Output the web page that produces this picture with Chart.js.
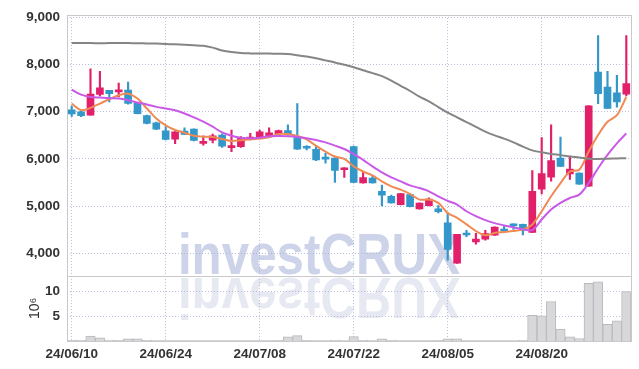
<!DOCTYPE html>
<html>
<head>
<meta charset="utf-8">
<script src="https://cdn.jsdelivr.net/npm/chart.js@4/dist/chart.umd.min.js"></script>
<style>
  html, body { margin: 0; padding: 0; background: #fff; }
  #wrap { width: 639px; height: 369px; position: relative; }
</style>
</head>
<body>
<div id="wrap"><canvas id="chart"></canvas></div>
<script>
const dates = ['24/06/10','24/06/11','24/06/12','24/06/13','24/06/14','24/06/17','24/06/18','24/06/19','24/06/20','24/06/21',
  '24/06/24','24/06/25','24/06/26','24/06/27','24/06/28','24/07/01','24/07/02','24/07/03','24/07/04','24/07/05',
  '24/07/08','24/07/09','24/07/10','24/07/11','24/07/12','24/07/15','24/07/16','24/07/17','24/07/18','24/07/19',
  '24/07/22','24/07/23','24/07/24','24/07/25','24/07/26','24/07/29','24/07/30','24/07/31','24/08/01','24/08/02',
  '24/08/05','24/08/06','24/08/07','24/08/08','24/08/09','24/08/12','24/08/13','24/08/14','24/08/16','24/08/19',
  '24/08/20','24/08/21','24/08/22','24/08/23','24/08/26','24/08/27','24/08/28','24/08/29','24/08/30','24/09/02'];
const tickDates = ['24/06/10','24/06/24','24/07/08','24/07/22','24/08/05','24/08/20'];
const priceTicks = [4000,5000,6000,7000,8000,9000];
const volumeTicks = [5,10];

const open = [7040,7000,6930,7365,7455,7420,7460,7195,6920,6765,
  6595,6420,6590,6635,6330,6395,6505,6240,6260,6410,
  6435,6495,6530,6600,6450,6235,6205,6010,6015,5770,
  6260,5490,5595,5310,5205,5030,5245,4940,5010,4940,
  4645,3790,4415,4240,4295,4380,4510,4595,4610,4440,
  5360,5615,6015,5680,5700,5420,7840,7525,7400,7375];
const close = [6955,6915,7375,7505,7385,7465,7175,6960,6750,6630,
  6415,6575,6520,6390,6365,6490,6270,6285,6450,6465,
  6575,6555,6600,6530,6205,6225,5980,5995,5755,5810,
  5500,5605,5490,5230,5065,5265,4985,5065,5150,4880,
  4080,4400,4385,4300,4415,4555,4470,4580,4490,5310,
  5690,5965,5840,5785,5465,7125,7385,7070,7210,7595];
const high = [7120,7010,7910,7855,7455,7610,7630,7200,6930,6780,
  6680,6580,6660,6640,6490,6525,6530,6610,6475,6540,
  6610,6660,6610,6720,7175,6285,6290,6120,6020,5815,
  6270,5735,5650,5445,5230,5270,5265,5070,5175,5010,
  4860,4400,4485,4420,4485,4560,4575,4625,4615,5750,
  6450,6720,6465,6060,5705,7130,8615,7855,7770,8615];
const low = [6900,6895,6925,7335,7210,7315,7160,6955,6740,6620,
  6400,6325,6515,6380,6290,6340,6245,6155,6245,6400,
  6425,6470,6495,6505,6200,6190,5960,5910,5500,5605,
  5495,5485,5485,5000,5060,5025,4980,4935,5005,4855,
  3850,3785,4350,4190,4275,4375,4435,4505,4385,4435,
  5255,5525,5835,5565,5460,5415,7170,7065,7095,7335];

// moving average lines
const maShort = [7173,7035,7082,7173,7265,7350,7384,7280,7068,6857,
  6710,6612,6555,6492,6471,6464,6422,6380,6393,6414,
  6430,6457,6528,6528,6486,6414,6275,6155,6050,6000,
  5840,5733,5650,5523,5417,5347,5255,5137,5137,5066,
  4850,4750,4610,4470,4380,4427,4448,4470,4505,4610,
  4890,5207,5487,5733,5770,6155,6506,6787,6928,7314];
const maMid = [7468,7362,7314,7300,7286,7280,7245,7195,7152,7103,
  7068,7033,6962,6880,6790,6682,6562,6492,6450,6436,
  6450,6478,6485,6478,6464,6436,6400,6350,6282,6210,
  6100,5980,5840,5712,5607,5523,5438,5382,5312,5207,
  5110,5031,4890,4785,4700,4637,4589,4547,4505,4490,
  4715,4925,5066,5171,5242,5487,5803,6085,6330,6541];
const maLong = [8460,8458,8456,8455,8456,8457,8456,8453,8450,8445,
  8438,8430,8422,8410,8400,8360,8300,8265,8245,8238,
  8235,8233,8230,8225,8200,8170,8135,8090,8045,7995,
  7945,7880,7820,7755,7660,7550,7440,7320,7220,7100,
  6980,6880,6780,6680,6580,6500,6430,6350,6260,6180,
  6140,6105,6080,6050,6030,6005,6000,6005,6010,6014];

// volume in 10^6
const volume = [0.15,0.2,1.0,0.65,0.2,0.15,0.45,0.45,0.15,0.1,
  0.1,0.1,0.1,0.1,0.1,0.1,0.1,0.1,0.1,0.1,
  0.1,0.1,0.15,0.85,1.1,0.15,0.1,0.1,0.15,0.1,
  0.9,0.15,0.1,0.45,0.15,0.1,0.1,0.1,0.1,0.15,
  0.45,0.45,0.1,0.1,0.1,0.1,0.1,0.1,0.15,5.2,
  5.1,8.0,2.4,0.85,0.5,11.7,12.0,3.4,4.1,10.0];

const UP = '#e2206a';
const DOWN = '#3397c9';
const GRID = 'rgba(170,178,212,0.85)';
const FRAME = '#c9c9cc';
const labelFont = {family: "'Liberation Sans', Arial, sans-serif", size: 13.5, weight: 'bold'};

const candleColors = close.map((c, i) => c >= open[i] ? UP : DOWN);

const watermark = {
  id: 'watermark',
  beforeDraw(chart) {
    const ctx = chart.ctx;
    const yb = chart.scales.y.bottom;
    const cx = 319;
    ctx.save();
    ctx.font = "bold 58px 'Liberation Sans', Arial, sans-serif";
    ctx.textAlign = 'center';
    ctx.textBaseline = 'alphabetic';
    ctx.translate(cx, 0);
    ctx.scale(0.85, 1);
    ctx.fillStyle = '#cdd3e8';
    ctx.fillText('investCRUX', 0, yb - 2);
    ctx.translate(0, 2 * yb);
    ctx.scale(1, -1);
    ctx.fillStyle = '#e7e9f2';
    ctx.fillText('investCRUX', 0, yb - 2);
    ctx.restore();
  }
};

const frame = {
  id: 'frame',
  beforeDatasetsDraw(chart) {
    const {ctx, chartArea} = chart;
    const yb = Math.round(chart.scales.y.bottom) + 0.5;
    ctx.save();
    ctx.strokeStyle = FRAME;
    ctx.lineWidth = 1;
    ctx.strokeRect(Math.round(chartArea.left) + 0.5, Math.round(chartArea.top) + 0.5,
      Math.round(chartArea.right - chartArea.left), Math.round(chartArea.bottom - chartArea.top));
    ctx.beginPath();
    ctx.moveTo(chartArea.left, yb);
    ctx.lineTo(chartArea.right, yb);
    ctx.stroke();
    ctx.restore();
  }
};

new Chart(document.getElementById('chart'), {
  type: 'bar',
  data: {
    labels: dates,
    datasets: [
      {type: 'line', data: maLong, borderColor: '#858585', borderWidth: 2, pointRadius: 0, tension: 0.3, yAxisID: 'y', order: 0},
      {type: 'line', data: maMid, borderColor: '#c95ae8', borderWidth: 2, pointRadius: 0, tension: 0.3, yAxisID: 'y', order: 0},
      {type: 'line', data: maShort, borderColor: '#ef8a55', borderWidth: 2, pointRadius: 0, tension: 0.3, yAxisID: 'y', order: 0},
      {data: open.map((o, i) => [o, close[i]]), backgroundColor: candleColors, barThickness: 7, minBarLength: 2, grouped: false, yAxisID: 'y', order: 1},
      {data: low.map((l, i) => [l, high[i]]), backgroundColor: candleColors, barThickness: 1.5, grouped: false, yAxisID: 'y', order: 2},
      {data: volume, backgroundColor: '#d8d8db', borderColor: '#b9b9bd', borderWidth: 1, barPercentage: 1, categoryPercentage: 1, grouped: false, yAxisID: 'yv', order: 3}
    ]
  },
  options: {
    responsive: true,
    maintainAspectRatio: false,
    animation: false,
    layout: {padding: {left: 25, right: 8, top: 13, bottom: 0}},
    plugins: {legend: {display: false}, tooltip: {enabled: false}},
    scales: {
      x: {
        offset: true,
        grid: {offset: false, color: GRID, drawTicks: false},
        border: {display: false, dash: [1, 2]},
        ticks: {
          autoSkip: false, maxRotation: 0, padding: 5, color: '#333', font: labelFont,
          callback(v) { const l = this.getLabelForValue(v); return tickDates.includes(l) ? l : null; }
        },
        afterFit(s) { s.height = 28; }
      },
      yv: {
        position: 'left', stack: 'main', stackWeight: 1,
        min: 0, max: 13.2,
        afterBuildTicks(s) { s.ticks = volumeTicks.map(v => ({value: v})); },
        grid: {color: GRID, drawTicks: false},
        border: {display: false, dash: [1, 2]},
        ticks: {padding: 7, color: '#333', font: labelFont},
        title: {display: true, text: '10⁶', color: '#333', font: {family: "'Liberation Sans', sans-serif", size: 14}, padding: {top: 2, bottom: 0}},
        afterFit(s) { s.width = 42; }
      },
      y: {
        position: 'left', stack: 'main', stackWeight: 4,
        min: 3520, max: 9050,
        afterBuildTicks(s) { s.ticks = priceTicks.map(v => ({value: v})); },
        grid: {color: GRID, drawTicks: false},
        border: {display: false, dash: [1, 2]},
        ticks: {padding: 7, color: '#333', font: labelFont, callback: v => v.toLocaleString('en-US')},
        afterFit(s) { s.width = 42; }
      }
    }
  },
  plugins: [watermark, frame]
});
</script>
</body>
</html>
